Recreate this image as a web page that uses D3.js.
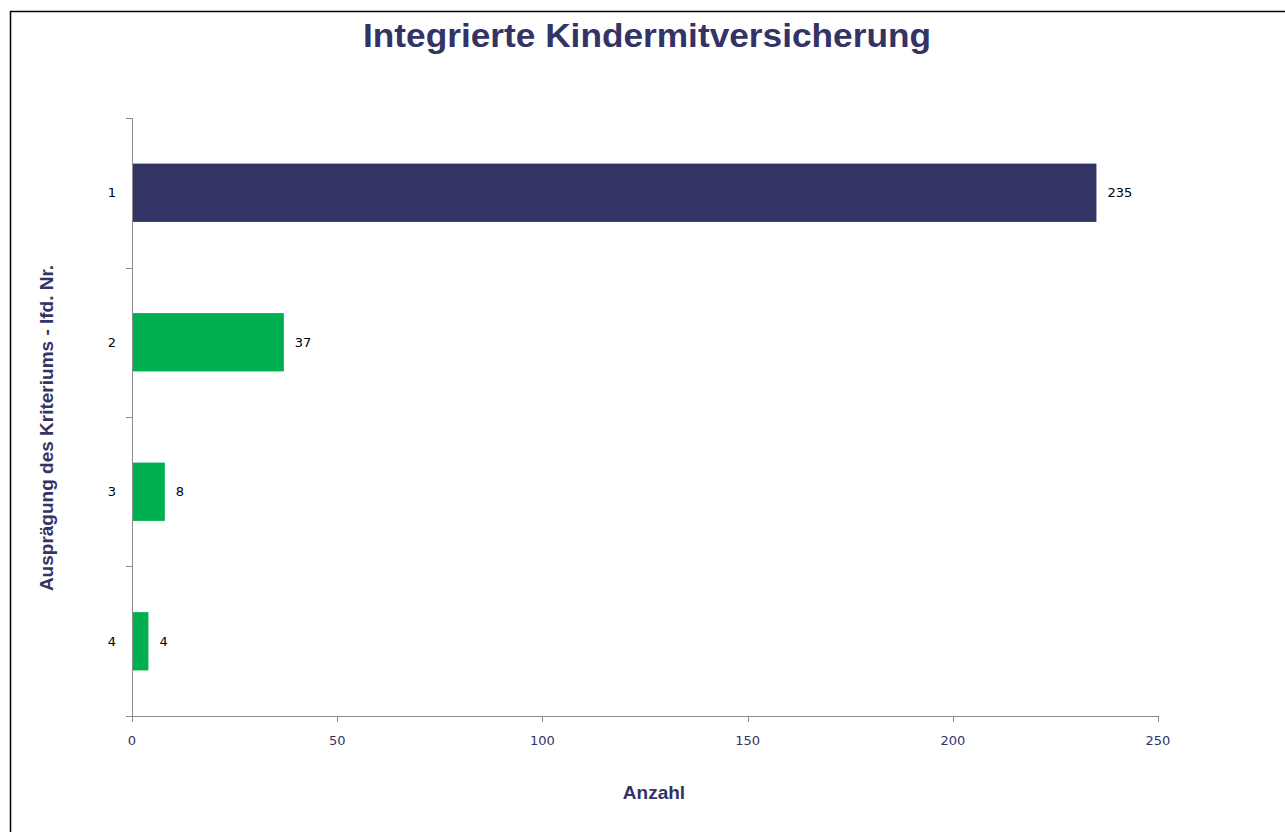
<!DOCTYPE html>
<html><head><meta charset="utf-8">
<script src="https://cdn.jsdelivr.net/npm/d3@7"></script>
<style>body{margin:0;background:#fff;} svg{display:block;}</style>
</head><body>
<svg id="c" width="1285" height="832"></svg>
<script>
const categories = ["1", "2", "3", "4"];
const values = [235, 37, 8, 4];
const colors = ["#333366", "#00b050", "#00b050", "#00b050"];
const xTicks = [0, 50, 100, 150, 200, 250];
const title = "Integrierte Kindermitversicherung";
const xTitle = "Anzahl";
const yTitle = "Ausprägung des Kriteriums - lfd. Nr.";

(function () {
const svg = d3.select("#c");
svg.append("rect").attr("x", 10.5).attr("y", 11.5).attr("width", 1290).attr("height", 840)
  .attr("fill", "#fff").attr("stroke", "#000").attr("stroke-width", 1.5);

const pL = 132, pR = 1158, pT = 118, pB = 716;
const x = d3.scaleLinear().domain([0, 250]).range([pL, pR]);
const y = d3.scaleBand().domain(categories).range([pT, pB]).paddingInner(0.61).paddingOuter(0.305);

svg.selectAll("rect.bar").data(values).join("rect").attr("class", "bar")
  .attr("x", x(0)).attr("y", (d, i) => y(categories[i]))
  .attr("width", d => x(d) - x(0)).attr("height", y.bandwidth())
  .attr("fill", (d, i) => colors[i]);

svg.selectAll("text.val").data(values).join("text").attr("class", "val")
  .attr("x", d => x(d) + 11).attr("y", (d, i) => y(categories[i]) + y.bandwidth() / 2)
  .attr("dy", "0.35em").attr("font-family", "DejaVu Sans, sans-serif").attr("font-size", 13)
  .attr("fill", "#000").text(d => d);

const axisColor = "#8c8c8c";
svg.append("line").attr("x1", pL + 0.5).attr("x2", pL + 0.5).attr("y1", pT).attr("y2", pB)
  .attr("stroke", axisColor);
const bounds = [pT].concat(categories.map(c => y(c) + y.bandwidth() + y.step() * y.paddingInner() / 2));
bounds[bounds.length - 1] = pB;
svg.selectAll("line.yt").data(bounds).join("line").attr("class", "yt")
  .attr("x1", pL - 6).attr("x2", pL).attr("y1", d => Math.round(d) + 0.5).attr("y2", d => Math.round(d) + 0.5)
  .attr("stroke", axisColor);
svg.selectAll("text.ycat").data(categories).join("text").attr("class", "ycat")
  .attr("x", 116).attr("y", d => y(d) + y.bandwidth() / 2).attr("dy", "0.35em")
  .attr("text-anchor", "end").attr("font-family", "DejaVu Sans, sans-serif").attr("font-size", 13)
  .attr("fill", "#000").text(d => d);

svg.append("line").attr("x1", pL - 6).attr("x2", pR).attr("y1", pB + 0.5).attr("y2", pB + 0.5)
  .attr("stroke", axisColor);
svg.selectAll("line.xt").data(xTicks).join("line").attr("class", "xt")
  .attr("x1", d => Math.round(x(d)) + 0.5).attr("x2", d => Math.round(x(d)) + 0.5)
  .attr("y1", pB).attr("y2", pB + 6).attr("stroke", axisColor);
svg.selectAll("text.xtl").data(xTicks).join("text").attr("class", "xtl")
  .attr("x", d => x(d)).attr("y", 745).attr("text-anchor", "middle")
  .attr("font-family", "DejaVu Sans, sans-serif").attr("font-size", 13)
  .attr("fill", "#333366").text(d => d);

svg.append("text").attr("x", 647).attr("y", 47).attr("text-anchor", "middle")
  .attr("font-family", "Liberation Sans, Arial, sans-serif").attr("font-weight", "bold")
  .attr("font-size", 33).attr("textLength", 568).attr("lengthAdjust", "spacingAndGlyphs")
  .attr("fill", "#333366").text(title);
svg.append("text").attr("x", 654).attr("y", 799).attr("text-anchor", "middle")
  .attr("font-family", "Liberation Sans, Arial, sans-serif").attr("font-weight", "bold")
  .attr("font-size", 19).attr("fill", "#333366").text(xTitle);
svg.append("text").attr("transform", "translate(53,428) rotate(-90)").attr("text-anchor", "middle")
  .attr("font-family", "Liberation Sans, Arial, sans-serif").attr("font-weight", "bold")
  .attr("font-size", 19).attr("fill", "#333366").text(yTitle);
})();
</script>
</body></html>
